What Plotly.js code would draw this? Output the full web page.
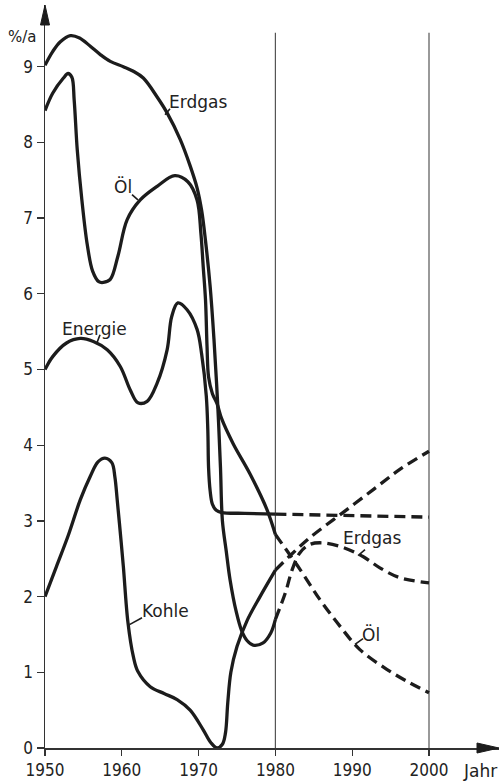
<!DOCTYPE html>
<html lang="de">
<head>
<meta charset="utf-8">
<script src="https://cdn.plot.ly/plotly-3.0.1.min.js"></script>
<style>
  html, body { margin: 0; padding: 0; background: #ffffff; }
  #chart { width: 499px; height: 781px; }
</style>
</head>
<body>
<div id="chart"></div>
<script>
// Jährliche Zuwachsraten des Verbrauchs (%/a), 1950–1980 und Vorausschätzung bis 2000

const xTicks = [1950, 1960, 1970, 1980, 1990, 2000];
const yTicks = [0, 1, 2, 3, 4, 5, 6, 7, 8, 9];
const markerYears = [1980, 2000];

// Erdgas
const erdgasYears = [1950, 1951, 1952, 1953.3, 1954.5, 1955.9, 1957.2, 1958.5, 1960.2, 1961.5, 1962.8, 1964.6, 1965.9, 1967.6, 1968.9, 1969.8, 1970.4, 1970.9, 1971.5, 1972.0, 1972.35, 1972.6, 1972.85, 1973.1, 1973.6, 1974.1, 1974.9, 1975.6, 1976.3, 1977.1, 1978.4, 1979.4, 1980];
const erdgasValues = [9.02, 9.2, 9.33, 9.41, 9.38, 9.27, 9.16, 9.07, 9.0, 8.94, 8.85, 8.6, 8.39, 8.04, 7.69, 7.4, 7.1, 6.7, 6.1, 5.4, 4.8, 4.3, 3.7, 3.0, 2.6, 2.22, 1.8, 1.55, 1.42, 1.36, 1.39, 1.52, 1.7];
const erdgasProjYears = [1980, 1981.3, 1982.2, 1983.2, 1984.5, 1986.2, 1988.8, 1991.4, 1993.6, 1996.2, 2000];
const erdgasProjValues = [1.7, 2.05, 2.36, 2.58, 2.69, 2.71, 2.65, 2.53, 2.38, 2.25, 2.18];

// Öl
const oelYears = [1950, 1951, 1952.4, 1953.0, 1953.5, 1953.8, 1954.2, 1954.8, 1955.5, 1956.2, 1957.0, 1957.6, 1958.5, 1959.5, 1960.7, 1962.4, 1964.6, 1966.9, 1968.6, 1969.8, 1970.3, 1970.6, 1970.9, 1971.1, 1971.3, 1971.8, 1972.4, 1973.0, 1974.5, 1976.7, 1978.9, 1980];
const oelValues = [8.42, 8.65, 8.85, 8.91, 8.86, 8.56, 7.9, 7.24, 6.65, 6.3, 6.16, 6.15, 6.19, 6.5, 6.98, 7.24, 7.42, 7.56, 7.48, 7.24, 6.8, 6.36, 5.92, 5.3, 4.9, 4.68, 4.55, 4.35, 4.02, 3.62, 3.15, 2.82];
const oelProjYears = [1980, 1983.2, 1985.8, 1988.4, 1991, 1994.5, 1997.5, 2000];
const oelProjValues = [2.82, 2.36, 1.96, 1.61, 1.3, 1.04, 0.86, 0.73];

// Energie insgesamt
const energieYears = [1950, 1951, 1952.8, 1954.6, 1956.3, 1958.1, 1959.8, 1961.1, 1962.1, 1963.3, 1964.6, 1965.9, 1966.5, 1967.3, 1968.5, 1969.8, 1970.4, 1971.0, 1971.2, 1971.3, 1971.5, 1971.8, 1972.3, 1973.0, 1976, 1980];
const energieValues = [5.0, 5.17, 5.35, 5.41, 5.37, 5.26, 5.04, 4.73, 4.56, 4.58, 4.82, 5.26, 5.7, 5.88, 5.79, 5.53, 5.2, 4.65, 4.2, 3.7, 3.4, 3.22, 3.14, 3.11, 3.1, 3.09];
const energieProjYears = [1980, 2000];
const energieProjValues = [3.09, 3.05];

// Kohle
const kohleYears = [1950, 1951.5, 1953, 1954.6, 1955.9, 1956.9, 1957.8, 1958.7, 1959.1, 1959.4, 1959.8, 1960.2, 1960.8, 1961.5, 1962.1, 1963.7, 1965.5, 1967.2, 1968.9, 1970.6, 1971.6, 1972.4, 1973.1, 1973.5, 1973.8, 1974.2, 1975.0, 1976.3, 1978.0, 1980];
const kohleValues = [2.0, 2.4, 2.8, 3.28, 3.59, 3.78, 3.83, 3.77, 3.58, 3.28, 2.85, 2.4, 1.66, 1.21, 1.01, 0.81, 0.72, 0.64, 0.5, 0.24, 0.07, 0.0, 0.05, 0.2, 0.6, 1.0, 1.34, 1.68, 2.0, 2.35];
const kohleProjYears = [1980, 1982, 1984.5, 1988.4, 1992.7, 1996.2, 2000];
const kohleProjValues = [2.35, 2.55, 2.78, 3.08, 3.41, 3.68, 3.92];

const labelTexts = { erdgas: 'Erdgas', oel: 'Öl', energie: 'Energie', kohle: 'Kohle' };
const yUnit = '%/a';
const xUnit = 'Jahr';

const ink = '#1c1c1c';
const textFont = 'DejaVu Sans, Verdana, sans-serif';
const tickFontFamily = 'DejaVu Sans Condensed, Liberation Sans Narrow, DejaVu Sans, sans-serif';

function solid(x, y) {
  return { x, y, type: 'scatter', mode: 'lines', hoverinfo: 'skip', showlegend: false,
           line: { color: ink, width: 3.3, shape: 'spline', smoothing: 1.0 } };
}
function dashed(x, y) {
  return { x, y, type: 'scatter', mode: 'lines', hoverinfo: 'skip', showlegend: false,
           line: { color: ink, width: 3.3, shape: 'spline', smoothing: 1.0, dash: '11px,6px' } };
}

const traces = [
  solid(erdgasYears, erdgasValues), dashed(erdgasProjYears, erdgasProjValues),
  solid(oelYears, oelValues), dashed(oelProjYears, oelProjValues),
  solid(energieYears, energieValues), dashed(energieProjYears, energieProjValues),
  solid(kohleYears, kohleValues), dashed(kohleProjYears, kohleProjValues)
];

// plot area geometry in pixels
const W = 499, H = 781;
const M = { l: 45, r: 0, t: 5, b: 33 };
const plotW = W - M.l - M.r, plotH = H - M.t - M.b;
const xMax = 1950 + plotW / 7.68;
const yMax = plotH / 75.7;

function label(text, x, y, size) {
  return { text, x, y, xref: 'x', yref: 'y', showarrow: false, xanchor: 'center', yanchor: 'middle',
           font: { family: textFont, size: size || 17, color: '#222' } };
}
function leader(x0, y0, x1, y1) {
  return { type: 'line', xref: 'x', yref: 'y', x0, y0, x1, y1, line: { color: ink, width: 1.6 } };
}

const shapes = [];
markerYears.forEach(yr => shapes.push({ type: 'line', xref: 'x', yref: 'y', x0: yr, x1: yr, y0: 0, y1: 9.45,
  line: { color: '#555', width: 1.2 }, layer: 'below' }));

// axis arrowheads
const ahW = 4.5 / plotW, ahL = 20 / plotH;
shapes.push({ type: 'path', xref: 'paper', yref: 'paper',
  path: `M ${-ahW} ${1 - ahL} L 0 1 L ${ahW} ${1 - ahL} Z`, fillcolor: ink, line: { color: ink, width: 1 } });
const axL = 22 / plotW, axH = 5 / plotH;
shapes.push({ type: 'path', xref: 'paper', yref: 'paper',
  path: `M ${1 - axL} ${-axH} L 1 0 L ${1 - axL} ${axH} Z`, fillcolor: ink, line: { color: ink, width: 1 } });

shapes.push(leader(1966.28, 8.445, 1965.63, 8.366));
shapes.push(leader(1961.33, 7.31, 1962.1, 7.24));
shapes.push(leader(1957.16, 5.46, 1956.77, 5.355));
shapes.push(leader(1962.63, 1.721, 1961.0, 1.63));
shapes.push(leader(1991.67, 2.62, 1990.76, 2.54));
shapes.push(leader(1991.41, 1.445, 1990.36, 1.37));

const annotations = [
  label(labelTexts.erdgas, 1969.92, 8.53),
  label(labelTexts.oel, 1960.22, 7.42),
  label(labelTexts.energie, 1956.38, 5.54),
  label(labelTexts.kohle, 1965.63, 1.81),
  label(labelTexts.erdgas, 1992.58, 2.78),
  label(labelTexts.oel, 1992.45, 1.50),
  { text: yUnit, xref: 'paper', yref: 'paper', x: (22 - M.l) / plotW, y: (748 - 37) / plotH,
    showarrow: false, xanchor: 'center', yanchor: 'middle', font: { family: textFont, size: 15, color: '#222' } },
  { text: xUnit, xref: 'paper', yref: 'paper', x: (480 - M.l) / plotW, y: (748 - 771) / plotH,
    showarrow: false, xanchor: 'center', yanchor: 'middle', font: { family: textFont, size: 17, color: '#222' } }
];

const axisCommon = {
  showgrid: false, zeroline: false, showline: true, linecolor: '#333', linewidth: 1.5,
  ticks: 'outside', tickcolor: '#333', tickwidth: 1.3, fixedrange: true,
  tickfont: { family: tickFontFamily, size: 17, color: '#222' }
};

const layout = {
  width: W, height: H, margin: M,
  paper_bgcolor: '#ffffff', plot_bgcolor: '#ffffff', showlegend: false,
  xaxis: Object.assign({}, axisCommon, { range: [1950, xMax], tickvals: xTicks, ticktext: xTicks.map(String), ticklen: 6 }),
  yaxis: Object.assign({}, axisCommon, { range: [0, yMax], tickvals: yTicks, ticktext: yTicks.map(String), ticklen: 7 }),
  shapes, annotations
};

Plotly.newPlot('chart', traces, layout, { staticPlot: true, displayModeBar: false });
</script>
</body>
</html>
